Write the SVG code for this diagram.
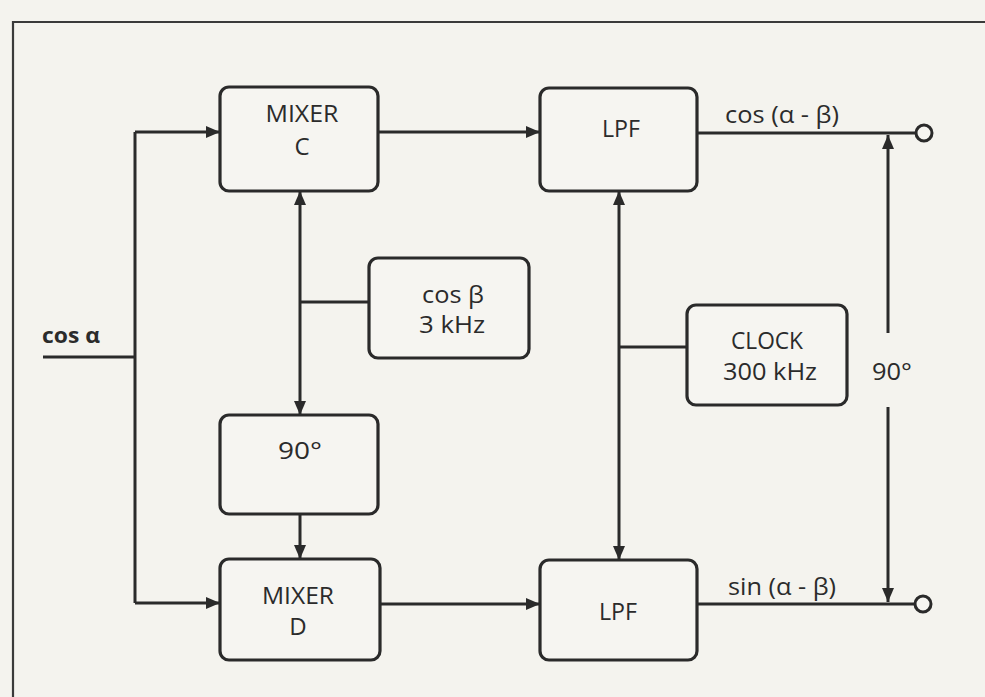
<svg xmlns="http://www.w3.org/2000/svg" width="985" height="697" viewBox="0 0 985 697">
<defs>
<marker id="ah" markerUnits="userSpaceOnUse" markerWidth="16" markerHeight="14" refX="14" refY="7" orient="auto">
<path d="M0,1 L14,7 L0,13 z" fill="#2a2a2a"/>
</marker>
<style>
.box{fill:#f6f5f1;stroke:#2a2a2a;stroke-width:3.2}
.ln{fill:none;stroke:#2a2a2a;stroke-width:3}
.ar{fill:none;stroke:#2a2a2a;stroke-width:3;marker-end:url(#ah)}
.t{font-family:"Open Sans","DejaVu Sans",sans-serif;font-size:24px;fill:#2b2b2b;text-anchor:middle}
.b{font-weight:bold}
</style>
</defs>
<rect x="0" y="0" width="985" height="697" fill="#f4f3ee"/>
<path d="M13,697 V22 H985" fill="none" stroke="#3a3a3a" stroke-width="2.2"/>

<g id="connectors">
<path class="ln" d="M43,357 H135"/>
<path class="ln" d="M135,132 V603"/>
<path class="ar" d="M135,132 H220"/>
<path class="ar" d="M135,603 H220"/>
<path class="ar" d="M378,132 H540"/>
<path class="ar" d="M380,604 H540"/>
<path class="ar" d="M300,302 V191"/>
<path class="ar" d="M300,302 V415"/>
<path class="ln" d="M300,302 H369"/>
<path class="ar" d="M300,514 V559"/>
<path class="ar" d="M619,347 V191"/>
<path class="ar" d="M619,347 V560"/>
<path class="ln" d="M619,347 H687"/>
<path class="ln" d="M697,133 H916"/>
<path class="ln" d="M697,604 H915"/>
<circle cx="924" cy="133" r="8" fill="#f6f5f1" stroke="#2a2a2a" stroke-width="3"/>
<circle cx="923" cy="604" r="8" fill="#f6f5f1" stroke="#2a2a2a" stroke-width="3"/>
<path class="ar" d="M888,333 V135"/>
<path class="ar" d="M888,407 V602"/>
</g>

<g id="input-label">
<text class="t b" x="71" y="343" textLength="58" lengthAdjust="spacingAndGlyphs" style="font-size:22px">cos α</text>
</g>

<g id="mixer-c">
<rect class="box" x="220" y="87" width="158" height="104" rx="9"/>
<text class="t" x="302" y="122" textLength="73" lengthAdjust="spacingAndGlyphs">MIXER</text>
<text class="t" x="302" y="155">C</text>
</g>

<g id="phase-90">
<rect class="box" x="220" y="415" width="158" height="99" rx="9"/>
<text class="t" x="300" y="459" textLength="44" lengthAdjust="spacingAndGlyphs">90°</text>
</g>

<g id="mixer-d">
<rect class="box" x="220" y="559" width="160" height="101" rx="9"/>
<text class="t" x="298" y="604" textLength="72" lengthAdjust="spacingAndGlyphs">MIXER</text>
<text class="t" x="298" y="635">D</text>
</g>

<g id="osc-cos-beta">
<rect class="box" x="369" y="258" width="160" height="100" rx="9"/>
<text class="t" x="453" y="303" textLength="62" lengthAdjust="spacingAndGlyphs">cos β</text>
<text class="t" x="452" y="333" textLength="66" lengthAdjust="spacingAndGlyphs">3 kHz</text>
</g>

<g id="lpf-top">
<rect class="box" x="540" y="88" width="157" height="103" rx="9"/>
<text class="t" x="621" y="137" textLength="38" lengthAdjust="spacingAndGlyphs">LPF</text>
</g>

<g id="clock">
<rect class="box" x="687" y="305" width="160" height="100" rx="9"/>
<text class="t" x="767" y="349" textLength="72" lengthAdjust="spacingAndGlyphs">CLOCK</text>
<text class="t" x="770" y="380" textLength="94" lengthAdjust="spacingAndGlyphs">300 kHz</text>
</g>

<g id="lpf-bottom">
<rect class="box" x="540" y="560" width="157" height="100" rx="9"/>
<text class="t" x="618" y="620" textLength="38" lengthAdjust="spacingAndGlyphs">LPF</text>
</g>

<g id="output-labels">
<text class="t" x="782" y="123" textLength="114" lengthAdjust="spacingAndGlyphs">cos (α - β)</text>
<text class="t" x="782" y="595" textLength="108" lengthAdjust="spacingAndGlyphs">sin (α - β)</text>
<text class="t" x="892" y="380" textLength="40" lengthAdjust="spacingAndGlyphs">90°</text>
</g>
</svg>
